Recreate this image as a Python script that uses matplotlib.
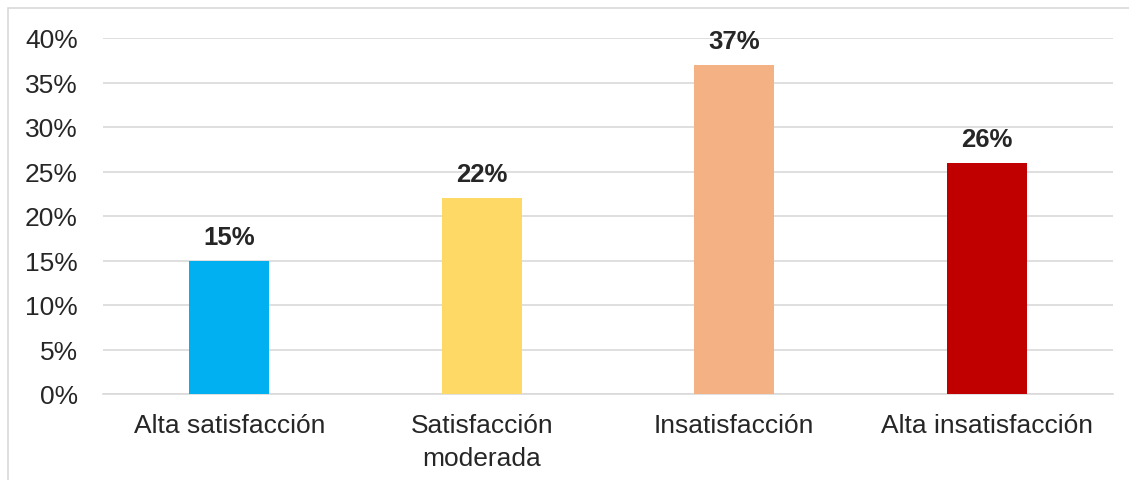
import matplotlib
matplotlib.use("Agg")
import matplotlib.pyplot as plt
from matplotlib.patches import Rectangle
from matplotlib.ticker import FuncFormatter

categories = ["Alta satisfacción", "Satisfacción\nmoderada", "Insatisfacción", "Alta insatisfacción"]
values = [15, 22, 37, 26]
colors = ["#00B0F0", "#FFD966", "#F4B183", "#C00000"]
yticks = [0, 5, 10, 15, 20, 25, 30, 35, 40]

plt.rcParams['font.family'] = ['Liberation Sans', 'DejaVu Sans']

W, H = 1129, 481
fig = plt.figure(figsize=(W / 100, H / 100), dpi=100)
fig.patches.append(Rectangle((8 / W, -0.1), 1.2, 1 - 9 / H + 0.1, transform=fig.transFigure,
                             fill=False, edgecolor="#D9D9D9", linewidth=1.2))

ax = fig.add_axes([103 / W, 1 - 395 / H, (1113 - 103) / W, (395 - 39) / H])
x = list(range(len(categories)))
ax.bar(x, values, width=0.317, color=colors, zorder=3)
ax.set_xlim(-0.5, len(categories) - 0.5)
ax.set_ylim(0, 40)
ax.set_yticks(yticks)
ax.yaxis.set_major_formatter(FuncFormatter(lambda v, p: f"{v:.0f}%"))
ax.set_xticks(x)
ax.set_xticklabels(categories, fontsize=19, color="#262626", linespacing=1.45, va="top")
ax.tick_params(axis='y', length=0, pad=18, labelsize=19, labelcolor="#262626")
ax.tick_params(axis='x', length=0, pad=14)
ax.grid(axis='y', color="#D9D9D9", linewidth=1.2, zorder=0)
for s in ["top", "right", "left"]:
    ax.spines[s].set_visible(False)
ax.spines["bottom"].set_color("#D9D9D9")
ax.spines["bottom"].set_linewidth(1.2)

for xi, v in zip(x, values):
    ax.annotate(f"{v}%", (xi, v), xytext=(0, 8.5), textcoords="offset points",
                ha="center", va="bottom", fontsize=18.5, fontweight="bold", color="#262626")

fig.savefig("out.png", dpi=100)
